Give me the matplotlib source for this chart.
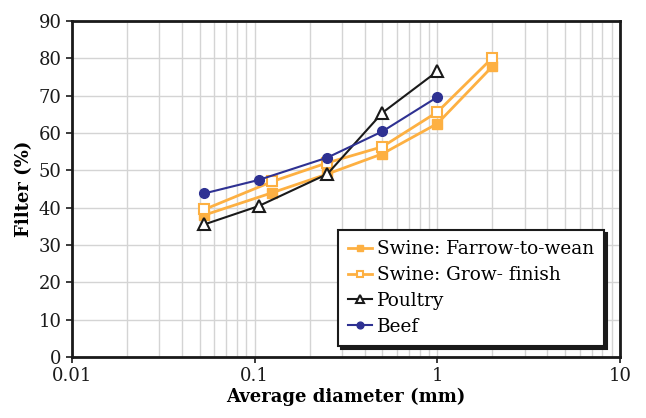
import matplotlib.pyplot as plt
from matplotlib.ticker import LogLocator, NullFormatter, FixedLocator

# Datos
x_swine = [0.053, 0.125, 0.25, 0.5, 1.0, 2.0]
y_farrow = [38.0, 44.0, 49.0, 54.4, 62.5, 77.8]
y_grow = [39.5, 47.0, 52.0, 56.3, 65.6, 80.1]
x_poultry = [0.053, 0.105, 0.25, 0.5, 1.0]
y_poultry = [35.5, 40.4, 49.0, 65.4, 76.5]
x_beef = [0.053, 0.105, 0.25, 0.5, 1.0]
y_beef = [43.8, 47.4, 53.4, 60.4, 69.6]

naranja = '#FDB042'
azul = '#2E3192'

plt.rcParams['font.family'] = ['DejaVu Serif']

fig = plt.figure(figsize=(6.46, 4.18), dpi=100)
ax = fig.add_axes([0.1115, 0.146, 0.8483, 0.804])

ax.plot(x_swine, y_farrow, color=naranja, lw=2, marker='s', ms=7,
        mfc=naranja, mec=naranja, label='Swine: Farrow-to-wean', zorder=3)
ax.plot(x_swine, y_grow, color=naranja, lw=2, marker='s', ms=7,
        mfc='white', mec=naranja, mew=1.5, label='Swine: Grow- finish', zorder=3)
ax.plot(x_poultry, y_poultry, color='#1a1a1a', lw=1.5, marker='^', ms=8,
        mfc='white', mec='#1a1a1a', mew=1.5, label='Poultry', zorder=4)
ax.plot(x_beef, y_beef, color=azul, lw=1.5, marker='o', ms=7,
        mfc=azul, mec=azul, label='Beef', zorder=4)

ax.set_xscale('log')
ax.set_xlim(0.01, 10)
ax.set_ylim(0, 90)
ax.yaxis.set_major_locator(FixedLocator(range(0, 91, 10)))
ax.xaxis.set_major_locator(LogLocator(base=10))
ax.xaxis.set_minor_locator(LogLocator(base=10, subs=range(2, 10)))
ax.xaxis.set_minor_formatter(NullFormatter())
ax.set_xticks([0.01, 0.1, 1, 10])
ax.set_xticklabels(['0.01', '0.1', '1', '10'])

ax.grid(True, which='major', color='#d4d4d4', lw=1)
ax.grid(True, which='minor', axis='x', color='#d4d4d4', lw=1)
ax.set_axisbelow(True)

for s in ax.spines.values():
    s.set_linewidth(2)
    s.set_color('#1a1a1a')

ax.tick_params(axis='both', which='major', direction='out', length=4, width=1.2,
               labelsize=13, colors='#1a1a1a')
ax.tick_params(axis='x', which='minor', length=0)

ax.set_xlabel('Average diameter (mm)', fontsize=13, fontweight='bold', labelpad=2)
ax.set_ylabel('Filter (%)', fontsize=13, fontweight='bold', labelpad=4)

leg = ax.legend(loc='lower right', bbox_to_anchor=(0.971, 0.033), borderaxespad=0,
                fontsize=13.3, markerscale=0.7,
                frameon=True, fancybox=False, edgecolor='#1a1a1a',
                shadow={'color': '#1a1a1a', 'alpha': 1, 'ox': 2.2, 'oy': -2.2},
                handlelength=1.3, handletextpad=0.25, borderpad=0.55, labelspacing=0.42)
leg.get_frame().set_linewidth(1.5)
leg.get_frame().set_alpha(1)

fig.savefig('out.png', dpi=100)
